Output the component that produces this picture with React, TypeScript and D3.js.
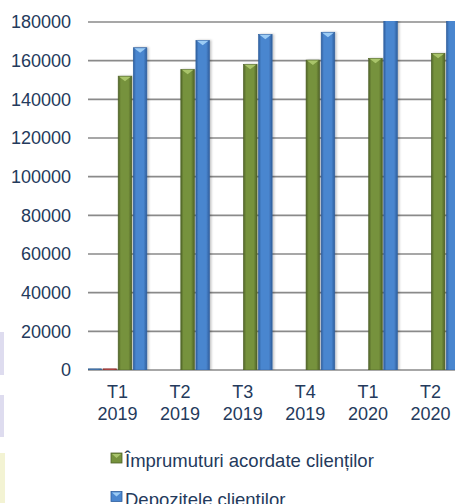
import React from 'react';
import * as d3 from 'd3';

const categories = ['T1 2019', 'T2 2019', 'T3 2019', 'T4 2019', 'T1 2020', 'T2 2020'];
const seriesNames = ['Seria 1', 'Seria 2', 'Împrumuturi acordate clienților', 'Depozitele clientilor'];
const seria1 = [600, 0, 0, 0, 0, 0];
const seria2 = [600, 0, 0, 0, 0, 0];
const imprumuturi = [152000, 155500, 158100, 160300, 161200, 163800];
const depozite = [166700, 170500, 173600, 174700, 186000, 188000];
const yTicks = [0, 20000, 40000, 60000, 80000, 100000, 120000, 140000, 160000, 180000];
const legendItems = ['Împrumuturi acordate clienților', 'Depozitele clientilor'];

const W = 455;
const H = 504;
const plot = { left: 88, right: 460, top: 22, bottom: 370 };
const textColor = '#243a5c';
const font = '"Liberation Sans", Arial, sans-serif';

const seriesStyle: Record<string, { base: string; dark: string; light: string }> = {
  'Seria 1': { base: '#4f81bd', dark: '#35608f', light: '#8db3e2' },
  'Seria 2': { base: '#c0504d', dark: '#8e3331', light: '#e6a09e' },
  'Împrumuturi acordate clienților': { base: '#76923c', dark: '#4f6228', light: '#a9c46b' },
  'Depozitele clientilor': { base: '#4a86cf', dark: '#2f5f9e', light: '#9cccf5' },
};

const App: React.FC = () => {
  const values = [seria1, seria2, imprumuturi, depozite];

  const y = d3.scaleLinear().domain([0, 180000]).range([plot.bottom, plot.top]);
  const x0 = d3.scaleBand<string>().domain(categories).range([plot.left, plot.right]).paddingInner(0.06).paddingOuter(0);
  const x1 = d3.scaleBand<string>().domain(seriesNames).range([0, x0.bandwidth()]).paddingInner(0.1);

  const gradId = (i: number) => `grad${i}`;

  return (
    <svg width={W} height={H} style={{ position: 'absolute', left: 0, top: 0, background: '#fff' }}>
      <defs>
        {seriesNames.map((s, i) => (
          <linearGradient key={s} id={gradId(i)} x1="0" x2="1" y1="0" y2="0">
            <stop offset="0" stopColor={seriesStyle[s].dark} />
            <stop offset="0.2" stopColor={seriesStyle[s].base} />
            <stop offset="0.75" stopColor={seriesStyle[s].base} />
            <stop offset="1" stopColor={seriesStyle[s].dark} />
          </linearGradient>
        ))}
        <clipPath id="plotClip">
          <rect x={plot.left} y={plot.top - 1} width={W - plot.left} height={plot.bottom - plot.top + 1} />
        </clipPath>
        <filter id="shadow" x="-30%" y="-5%" width="160%" height="110%">
          <feDropShadow dx="1.5" dy="0" stdDeviation="1" floodColor="#000" floodOpacity="0.25" />
        </filter>
      </defs>

      {/* faint decorative strips at the left edge */}
      <rect x={0} y={332} width={4} height={43} fill="#dedcef" />
      <rect x={0} y={395} width={4} height={42} fill="#dedcef" />
      <rect x={0} y={453} width={5} height={50} fill="#f3f3d3" />

      {yTicks.map((t) => (
        <g key={t}>
          <line x1={plot.left} x2={W} y1={y(t)} y2={y(t)} stroke="#8a8a8a" strokeWidth={1.6} />
          <text x={71} y={y(t)} dy="0.36em" textAnchor="end" fontFamily={font} fontSize={18} fill={textColor}>
            {t}
          </text>
        </g>
      ))}

      <g clipPath="url(#plotClip)">
        {categories.map((c, ci) => (
          <g key={c} transform={`translate(${x0(c)},0)`}>
            {seriesNames.map((s, si) => {
              const v = values[si][ci];
              if (v <= 0) return null;
              const bx = x1(s)!;
              const bw = x1.bandwidth();
              const top = y(v);
              const h = plot.bottom - top;
              const tri = Math.min(5, h);
              return (
                <g key={s} filter="url(#shadow)">
                  <rect x={bx} y={top} width={bw} height={h} fill={`url(#${gradId(si)})`} stroke={seriesStyle[s].dark} strokeWidth={0.6} />
                  {h > 4 && (
                    <path
                      d={`M${bx + 1},${top + 0.5} L${bx + bw - 1},${top + 0.5} L${bx + bw / 2},${top + tri} Z`}
                      fill={seriesStyle[s].light}
                    />
                  )}
                </g>
              );
            })}
          </g>
        ))}
      </g>

      {categories.map((c) => {
        const [q, yr] = c.split(' ');
        const cx = x0(c)! + x0.bandwidth() / 2;
        return (
          <text key={c} x={cx} textAnchor="middle" fontFamily={font} fontSize={18} fill={textColor}>
            <tspan x={cx} y={398}>{q}</tspan>
            <tspan x={cx} y={420}>{yr}</tspan>
          </text>
        );
      })}

      {legendItems.map((name, i) => {
        const ly = 453 + i * 38.5;
        const st = seriesStyle[name];
        return (
          <g key={name}>
            <rect x={111} y={ly} width={11} height={10} fill={st.base} stroke={st.dark} strokeWidth={0.8} />
            <path d={`M${112},${ly + 1} L${121},${ly + 1} L${116.5},${ly + 5} Z`} fill={st.light} />
            <text x={125} y={ly + 14} fontFamily={font} fontSize={18.5} fill={textColor}>
              {name}
            </text>
          </g>
        );
      })}
    </svg>
  );
};

export default App;
